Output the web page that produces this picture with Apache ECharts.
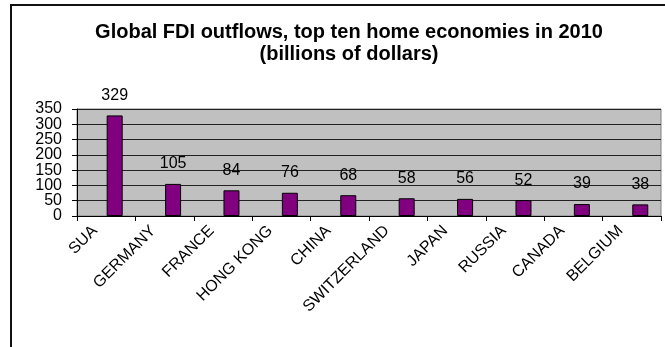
<!DOCTYPE html>
<html>
<head>
<meta charset="utf-8">
<script src="https://cdn.jsdelivr.net/npm/echarts@6/dist/echarts.min.js"></script>
<style>
  html, body { margin: 0; padding: 0; background: #fff; }
  #chart { width: 665px; height: 347px; }
</style>
</head>
<body>
<div id="chart"></div>
<script>
// Top ten home economies by FDI outflows, 2010 (billions of dollars)
const countries = ['SUA', 'GERMANY', 'FRANCE', 'HONG KONG', 'CHINA', 'SWITZERLAND', 'JAPAN', 'RUSSIA', 'CANADA', 'BELGIUM'];
const outflows = [329, 105, 84, 76, 68, 58, 56, 52, 39, 38];
const yTicks = { min: 0, max: 350, step: 50 };

const FONT = '"Liberation Sans", Arial, sans-serif';

const chart = echarts.init(document.getElementById('chart'), null, { renderer: 'canvas' });

// The tick labels sit closer together than their font height, so the
// even and odd steps are written by two coincident value axes.
function tickLabels(showOdd) {
  return {
    margin: 15,
    showMinLabel: true,
    showMaxLabel: true,
    hideOverlap: false,
    fontFamily: FONT,
    fontSize: 16,
    color: '#000',
    formatter: function (v) {
      const odd = Math.round(v / yTicks.step) % 2 === 1;
      return odd === showOdd ? String(v) : '';
    }
  };
}

chart.setOption({
  backgroundColor: '#ffffff',
  animation: false,
  title: {
    text: 'Global FDI outflows, top ten home economies in 2010\n(billions of dollars)',
    left: 344,
    textAlign: 'center',
    top: 16,
    textStyle: {
      fontFamily: FONT,
      fontWeight: 'bold',
      fontSize: 20,
      lineHeight: 22,
      color: '#000'
    }
  },
  graphic: [{
    type: 'polyline',
    shape: { points: [[11, 347], [11, 5], [665, 5]] },
    style: { stroke: '#111', lineWidth: 2, fill: null },
    silent: true
  }],
  grid: {
    left: 77,
    right: 4,
    top: 109,
    bottom: 131,
    show: true,
    backgroundColor: '#c0c0c0',
    borderColor: '#808080',
    borderWidth: 1
  },
  xAxis: {
    type: 'category',
    data: countries,
    boundaryGap: true,
    axisLine: { show: true, lineStyle: { color: '#000', width: 1 } },
    axisTick: { show: true, length: 5, alignWithLabel: false, lineStyle: { color: '#000' } },
    axisLabel: {
      interval: 0,
      rotate: 45,
      margin: 1,
      // extra room at the text end slides each label along its slant
      padding: [0, 16, 0, 0],
      hideOverlap: false,
      fontFamily: FONT,
      fontSize: 16,
      color: '#000'
    },
    splitLine: { show: false }
  },
  yAxis: [
    {
      type: 'value',
      position: 'left',
      min: yTicks.min,
      max: yTicks.max,
      interval: yTicks.step,
      axisLine: { show: true, lineStyle: { color: '#000', width: 1 } },
      axisTick: { show: true, length: 5, lineStyle: { color: '#000' } },
      axisLabel: tickLabels(false),
      splitLine: { show: true, lineStyle: { color: '#222', width: 1 } }
    },
    {
      type: 'value',
      position: 'left',
      offset: 0,
      min: yTicks.min,
      max: yTicks.max,
      interval: yTicks.step,
      axisLine: { show: false },
      axisTick: { show: false },
      axisLabel: tickLabels(true),
      splitLine: { show: false }
    }
  ],
  series: [
    {
      // empty slot to the left of each bar, keeping the bars right of centre
      type: 'bar',
      name: 'spacer',
      data: [],
      barWidth: 16,
      barGap: '6%',
      silent: true
    },
    {
      type: 'bar',
      name: 'FDI outflows',
      data: outflows,
      barWidth: 16,
      barGap: '6%',
      itemStyle: { color: '#800080', borderColor: '#000', borderWidth: 1 },
      label: {
        show: true,
        position: 'top',
        distance: 12,
        fontFamily: FONT,
        fontSize: 16,
        color: '#000'
      }
    }
  ]
});
</script>
</body>
</html>
